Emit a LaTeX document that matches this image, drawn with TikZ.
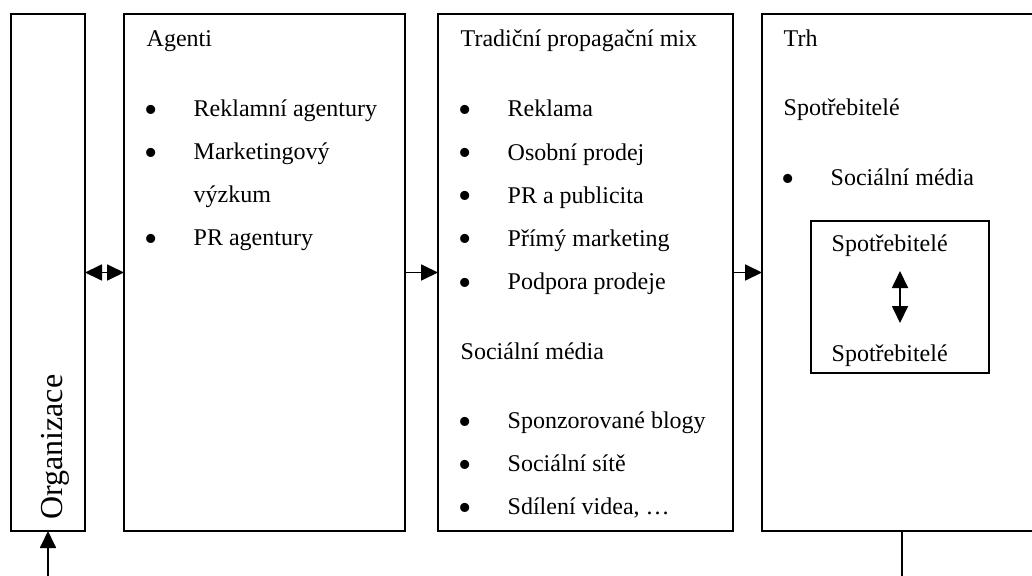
\documentclass[tikz,border=0pt]{standalone}
\usepackage{fontspec}
\setmainfont{Liberation Serif}
\usepackage{tikz}
\usetikzlibrary{arrows.meta,positioning}

\newcommand{\bul}{\makebox[47pt][l]{\hspace*{-2.5pt}\raisebox{-5.5pt}{\fontsize{38}{38}\selectfont •}}}

\begin{document}
\begin{tikzpicture}[
    x=1pt, y=-1pt,
    font=\fontsize{24}{28}\selectfont,
    box/.style={draw, line width=1.5pt, outer sep=0pt, inner sep=0pt, anchor=north west},
    txt/.style={anchor=base west, inner sep=0pt},
    item/.style={txt, execute at begin node={\bul}},
    link/.style={line width=1.8pt, >={Triangle[length=17pt,width=16pt]}}
]
\useasboundingbox (0,0) rectangle (1032,575);
\clip (0,0) rectangle (1032,575);

% the four columns
\node[box, minimum width=74pt, minimum height=517pt] (org) at (11,14) {};
\node[box, minimum width=281pt, minimum height=517pt] (agenti) at (124,14) {};
\node[box, minimum width=295pt, minimum height=517pt] (mix) at (438,14) {};
\node[box, minimum width=280pt, minimum height=517pt] (trh) at (762,14) {};
\node[box, minimum width=178pt, minimum height=152pt] (inner) at (811,221) {};

\node[txt, rotate=90, font=\fontsize{32}{36}\selectfont] (orgtxt) at (62,520) {Organizace};

% agents
\node[txt] (agtitle) at (146.5,46.5) {Agenti};
\node[item] (ag1) at (146.5,116.7) {Reklamní agentury};
\node[item] (ag2) at (146.5,159.6) {Marketingový};
\node[txt] (ag2b) at (193.5,202.7) {výzkum};
\node[item] (ag3) at (146.5,245.6) {PR agentury};

% promotion mix
\node[txt] (mixtitle) at (460.5,46.5) {Tradiční propagační mix};
\node[item] (mx1) at (460.5,116.7) {Reklama};
\node[item] (mx2) at (460.5,160) {Osobní prodej};
\node[item] (mx3) at (460.5,203.2) {PR a publicita};
\node[item] (mx4) at (460.5,246.4) {Přímý marketing};
\node[item] (mx5) at (460.5,289.6) {Podpora prodeje};
\node[txt] (smtitle) at (460.5,359.5) {Sociální média};
\node[item] (sm1) at (460.5,428.5) {Sponzorované blogy};
\node[item] (sm2) at (460.5,471.5) {Sociální sítě};
\node[item] (sm3) at (460.5,514.5) {Sdílení videa, …};

% market
\node[txt] (trhtitle) at (783.5,46.5) {Trh};
\node[txt] (spot) at (783.5,116) {Spotřebitelé};
\node[item] (tr1) at (783.5,185.5) {Sociální média};
\node[txt] (spa) at (831.5,251.7) {Spotřebitelé};
\node[txt] (spb) at (831.5,361.7) {Spotřebitelé};

\coordinate (upp) at ([yshift=26pt]inner.center);
\coordinate (low) at ([yshift=-26pt]inner.center);
\coordinate (fbr) at (trh.south |- 0,600);
\coordinate (fbl) at (org.south |- 0,600);

\draw[link, <->] (org) -- (agenti);
\draw[link, ->] (agenti) -- (mix);
\draw[link, ->] (mix) -- (trh);
\draw[link, <->] (upp) -- (low);
\draw[link, ->] (trh.south) -- (fbr) -- (fbl) -- (org.south);
\end{tikzpicture}
\end{document}
